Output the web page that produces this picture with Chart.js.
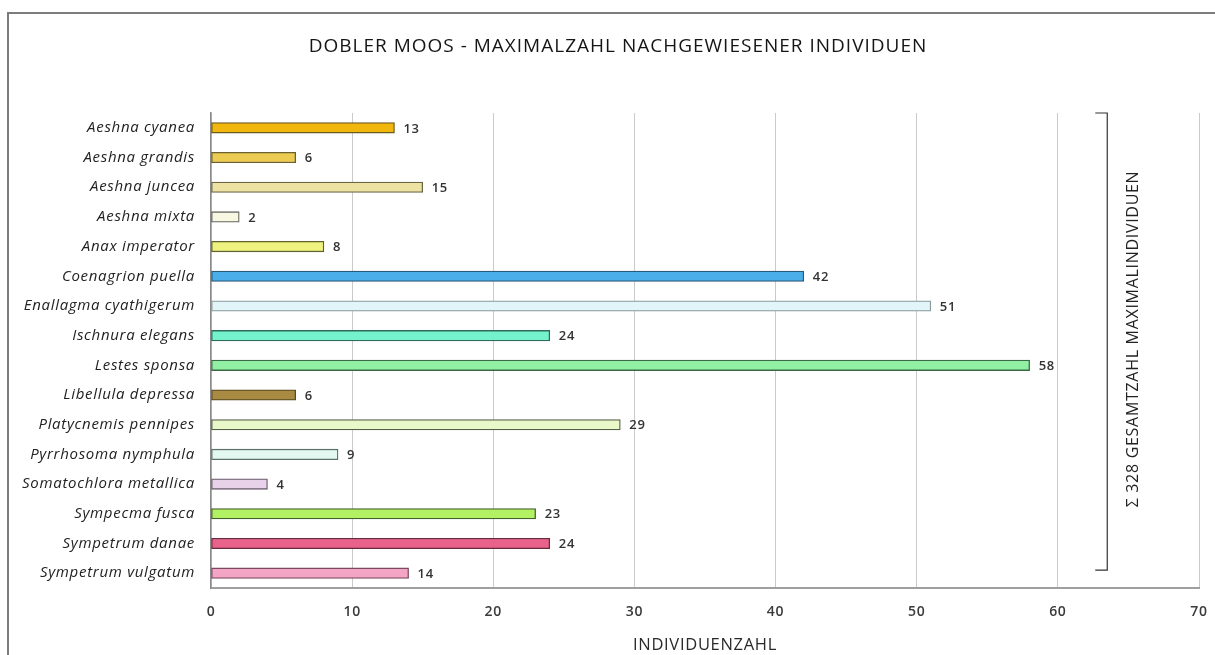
<!DOCTYPE html>
<html>
<head>
<meta charset="utf-8">
<script src="https://cdn.jsdelivr.net/npm/chart.js@4"></script>
<style>
  html, body { margin: 0; padding: 0; background: #ffffff; }
  #wrap { position: relative; width: 1215px; height: 655px; }
  canvas { display: block; }
</style>
</head>
<body>
<div id="wrap"><canvas id="c" width="1215" height="655"></canvas></div>
<script>
// Species recorded at the Dobler Moos and their maximum counts
const species = [
  'Aeshna cyanea', 'Aeshna grandis', 'Aeshna juncea', 'Aeshna mixta',
  'Anax imperator', 'Coenagrion puella', 'Enallagma cyathigerum',
  'Ischnura elegans', 'Lestes sponsa', 'Libellula depressa',
  'Platycnemis pennipes', 'Pyrrhosoma nymphula', 'Somatochlora metallica',
  'Sympecma fusca', 'Sympetrum danae', 'Sympetrum vulgatum'
];
const maxCounts = [13, 6, 15, 2, 8, 42, 51, 24, 58, 6, 29, 9, 4, 23, 24, 14];

const fillColors = [
  '#f2b70c', '#eccb52', '#eee2a2', '#f8f7e2',
  '#eef27e', '#4aaeea', '#e2f5f8',
  '#74f2cc', '#92f0a4', '#a88a42',
  '#e8f8c8', '#e4f8f2', '#e8d2ea',
  '#b2f064', '#e8628c', '#f4a4c4'
];
const edgeColors = [
  '#6a5a20', '#6a6030', '#6a6648', '#666660',
  '#60622e', '#2a5a7a', '#8a9a9e',
  '#2e6a58', '#3a6a44', '#5a4a22',
  '#55604a', '#5e706c', '#6a5a6c',
  '#44602a', '#6a2a3c', '#7a4a5c'
];

const xTicks = [0, 10, 20, 30, 40, 50, 60, 70];
const chartTitle = 'DOBLER MOOS - MAXIMALZAHL NACHGEWIESENER INDIVIDUEN';
const xTitle = 'INDIVIDUENZAHL';
const totalCount = maxCounts.reduce((a, b) => a + b, 0);
const totalLabel = '\u03A3 ' + totalCount + ' GESAMTZAHL MAXIMALINDIVIDUEN';

const FONT = '"Open Sans", Lato, sans-serif';
const SPACING = '0.7px';

// outer frame line, heading, and the wide letter spacing used for all text
const framePlugin = {
  id: 'frame',
  beforeDraw(chart) {
    const ctx = chart.ctx;
    ctx.letterSpacing = SPACING;
    ctx.save();
    ctx.strokeStyle = '#7c7c7c';
    ctx.lineWidth = 2;
    ctx.beginPath();
    ctx.moveTo(8, chart.height + 2);
    ctx.lineTo(8, 13);
    ctx.lineTo(chart.width + 2, 13);
    ctx.stroke();
    ctx.letterSpacing = '1px';
    ctx.font = '19px ' + FONT;
    ctx.fillStyle = '#151515';
    ctx.textAlign = 'center';
    ctx.textBaseline = 'middle';
    ctx.fillText(chartTitle, 618, 47);
    ctx.restore();
  },
  afterDraw(chart) {
    chart.ctx.letterSpacing = '0px';
  }
};

// count written to the right of each bar
const valueLabels = {
  id: 'valueLabels',
  afterDatasetsDraw(chart) {
    const ctx = chart.ctx;
    const meta = chart.getDatasetMeta(0);
    ctx.save();
    ctx.font = '600 13px ' + FONT;
    ctx.fillStyle = '#333333';
    ctx.textAlign = 'left';
    ctx.textBaseline = 'middle';
    meta.data.forEach((bar, i) => {
      ctx.fillText(String(maxCounts[i]), bar.x + 9, bar.y + 1);
    });
    ctx.restore();
  }
};

// bracket spanning all species with the total count
const totalBracket = {
  id: 'totalBracket',
  afterDraw(chart) {
    const ctx = chart.ctx;
    const xs = chart.scales.x;
    const ys = chart.scales.y;
    const x = xs.getPixelForValue(63.5);
    const top = chart.chartArea.top;
    const bottom = ys.getPixelForValue(species.length - 1) - 3;
    ctx.save();
    ctx.strokeStyle = '#333333';
    ctx.lineWidth = 1.2;
    ctx.beginPath();
    ctx.moveTo(x - 12, top);
    ctx.lineTo(x, top);
    ctx.lineTo(x, bottom);
    ctx.lineTo(x - 12, bottom);
    ctx.stroke();
    ctx.translate(x + 26, 339);
    ctx.rotate(-Math.PI / 2);
    ctx.letterSpacing = SPACING;
    ctx.font = '16px ' + FONT;
    ctx.fillStyle = '#222222';
    ctx.textAlign = 'center';
    ctx.textBaseline = 'middle';
    ctx.fillText(totalLabel, 0, 0);
    ctx.restore();
  }
};

new Chart(document.getElementById('c'), {
  type: 'bar',
  data: {
    labels: species,
    datasets: [{
      data: maxCounts,
      backgroundColor: fillColors,
      borderColor: edgeColors,
      borderWidth: 1.3,
      borderSkipped: false,
      barThickness: 10.5
    }]
  },
  options: {
    indexAxis: 'y',
    responsive: false,
    animation: false,
    layout: { padding: { left: 0, right: 16, top: 113, bottom: 0 } },
    plugins: {
      legend: { display: false },
      tooltip: { enabled: false },
      title: { display: false }
    },
    scales: {
      x: {
        min: 0,
        max: 70,
        afterBuildTicks(scale) {
          scale.ticks = xTicks.map(v => ({ value: v }));
        },
        afterFit(scale) {
          scale.height = 67;
          scale.paddingLeft = 0;
          scale.paddingRight = 0;
        },
        grid: { color: '#cacaca', lineWidth: 1, drawTicks: false },
        border: { color: '#a0a0a0', width: 2 },
        ticks: {
          color: '#3a3a3a',
          padding: 16,
          font: { family: FONT, size: 14, weight: '600' }
        },
        title: {
          display: true,
          text: xTitle,
          color: '#2a2a2a',
          font: { family: FONT, size: 16.5 },
          padding: { top: 2, bottom: 0 }
        }
      },
      y: {
        afterFit(scale) { scale.width = 211; },
        grid: { display: false, drawTicks: false },
        border: { color: '#8a8a8a', width: 1.5 },
        ticks: {
          color: '#222222',
          padding: 16,
          font: { family: FONT, size: 15, style: 'italic' }
        }
      }
    }
  },
  plugins: [framePlugin, valueLabels, totalBracket]
});
</script>
</body>
</html>
